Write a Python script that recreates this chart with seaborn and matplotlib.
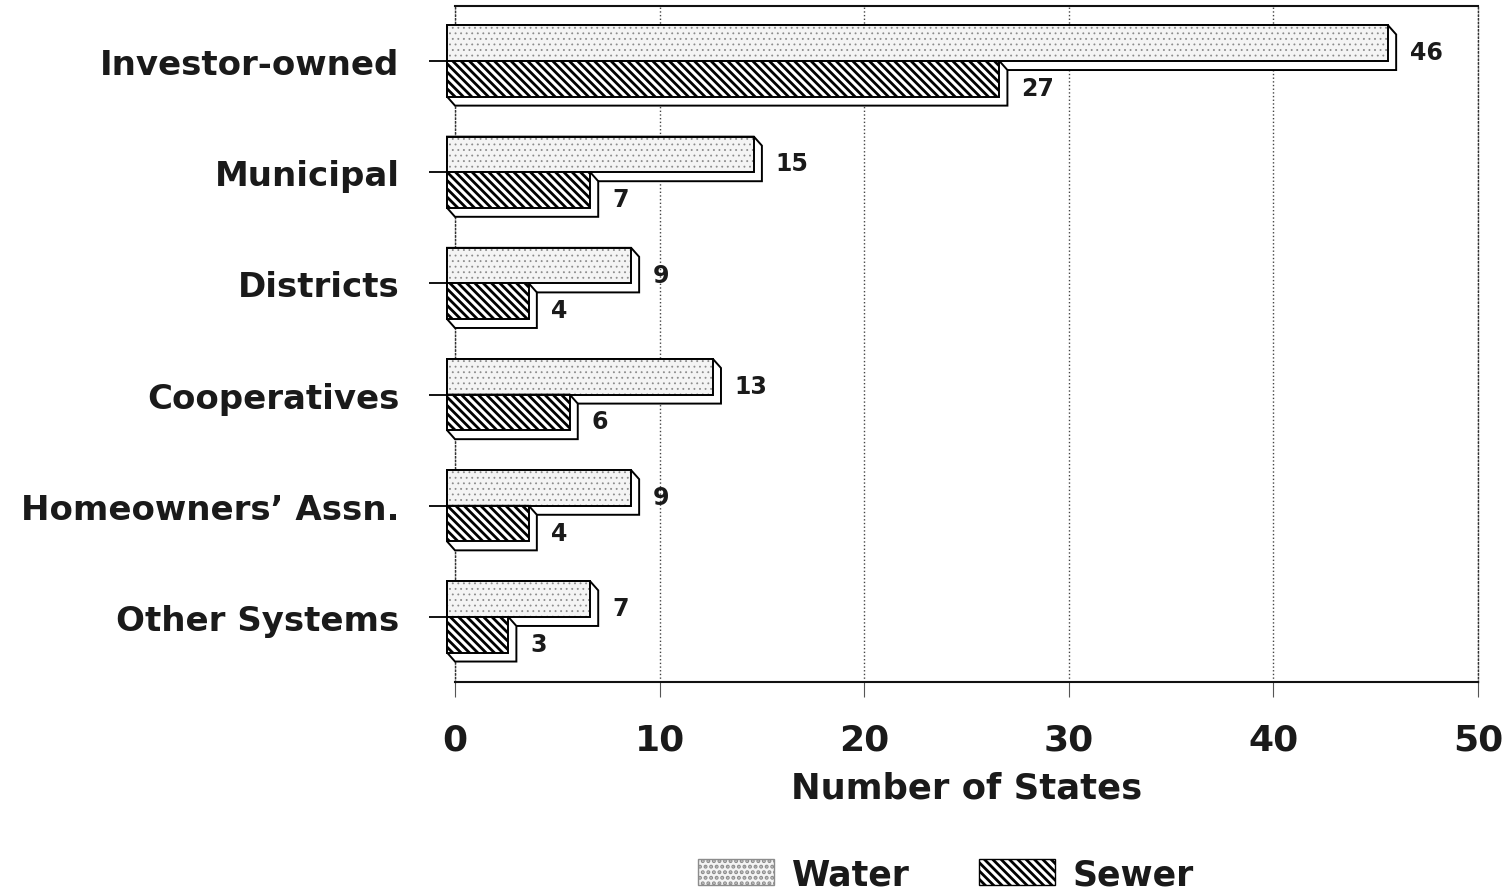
import matplotlib
matplotlib.use("Agg")
import matplotlib.pyplot as plt
import seaborn as sns
import pandas as pd
import numpy as np
from matplotlib.patches import Polygon, Patch, Rectangle

systems = ["Investor-owned", "Municipal", "Districts", "Cooperatives",
           "Homeowners\u2019 Assn.", "Other Systems"]
water = [46, 15, 9, 13, 9, 7]
sewer = [27, 7, 4, 6, 4, 3]
series = ["Water", "Sewer"]
x_ticks = [0, 10, 20, 30, 40, 50]

df = pd.DataFrame({
    "System": systems * 2,
    "States": water + sewer,
    "Type": ["Water"] * len(systems) + ["Sewer"] * len(systems),
})

sns.set_theme(style="white")
plt.rcParams["font.family"] = ["DejaVu Sans"]
plt.rcParams["font.weight"] = "bold"
plt.rcParams["hatch.linewidth"] = 2.0
plt.rcParams["text.color"] = "#1a1a1a"

fig = plt.figure(figsize=(15.12, 8.95), dpi=100)
ax = fig.add_axes([455 / 1512, (895 - 683) / 895, 1023 / 1512, 676 / 895])

sns.barplot(data=df, y="System", x="States", hue="Type", hue_order=series,
            orient="h", width=0.64, errorbar=None, legend=False,
            palette=["white", "white"], saturation=1, ax=ax)

ax.set_xlim(0, 50)
ax.set_ylim(5.585, -0.495)

# pixel offsets of the 3-D effect, turned into data units
p0 = ax.transData.transform((0, 0))
inv = ax.transData.inverted()
ox = inv.transform(p0 + np.array([8, 0]))[0]
oy = inv.transform(p0 + np.array([0, -9]))[1]

# hatch drawn in the patch edge colour, outline added separately
styles = {
    "Water": dict(facecolor="#f4f4f4", edgecolor="#8c8c8c", hatch="...", hlw=0.6),
    "Sewer": dict(facecolor="white", edgecolor="black", hatch="\\" * 4, hlw=2.0),
}


def style_patch(p, st):
    p.set_facecolor(st["facecolor"])
    p.set_edgecolor(st["edgecolor"])
    p.set_hatch(st["hatch"])
    if hasattr(p, "set_hatch_linewidth"):
        p.set_hatch_linewidth(st["hlw"])


for k, (cont, name) in enumerate(zip(ax.containers, series)):
    for bar in cont:
        x, y = bar.get_x(), bar.get_y()
        w, h = bar.get_width(), bar.get_height()
        shadow = Polygon([(x - ox, y), (x + w - ox, y), (x + w, y + oy),
                          (x + w, y + h + oy), (x, y + h + oy), (x - ox, y + h)],
                         closed=True, facecolor="white", edgecolor="black",
                         lw=1.4, zorder=3 + 2 * k, clip_on=False)
        ax.add_patch(shadow)
        bar.set_x(x - ox)
        style_patch(bar, styles[name])
        bar.set(linewidth=0, zorder=4 + 2 * k, clip_on=False)
        ax.add_patch(Rectangle((x - ox, y), w, h, fill=False, edgecolor="black",
                               lw=1.4, zorder=4.5 + 2 * k, clip_on=False))
        ax.annotate(f"{w:g}", xy=(x + w, y + h / 2 + oy), xytext=(10, 0),
                    textcoords="offset points", va="center", ha="left",
                    fontsize=17, fontweight="bold")

ax.set_axisbelow(True)
ax.grid(axis="x", linestyle=":", color="#444444", lw=1.0)
ax.grid(axis="y", visible=False)
for s in ["left", "right"]:
    ax.spines[s].set_linestyle(":")
    ax.spines[s].set_linewidth(1.0)
    ax.spines[s].set_color("#333333")
for s in ["top", "bottom"]:
    ax.spines[s].set_linewidth(1.5)
    ax.spines[s].set_color("#111111")

ax.set_xticks(x_ticks)
ax.tick_params(axis="x", direction="out", length=11, width=0.8,
               color="#555555", pad=18, labelsize=26, labelcolor="#1a1a1a",
               bottom=True)
ax.tick_params(axis="y", direction="out", length=19, width=1.3,
               color="black", pad=21, labelsize=24.5, labelcolor="#1a1a1a",
               left=True)
for lab in ax.get_xticklabels() + ax.get_yticklabels():
    lab.set_fontweight("bold")
ax.set_ylabel("")
ax.set_xlabel("Number of States", fontsize=25.5, fontweight="bold",
              labelpad=10, color="#1a1a1a")

handles = []
for n in series:
    hp = Patch(lw=1.0)
    style_patch(hp, styles[n])
    handles.append(hp)
fig.legend(handles, series, loc="center", bbox_to_anchor=(0.6257, 0.022),
           ncol=2, frameon=False, prop={"size": 25, "weight": "bold"},
           handlelength=2.2, handleheight=0.75, handletextpad=0.5,
           columnspacing=2.0)

fig.savefig("out.png", dpi=100)
